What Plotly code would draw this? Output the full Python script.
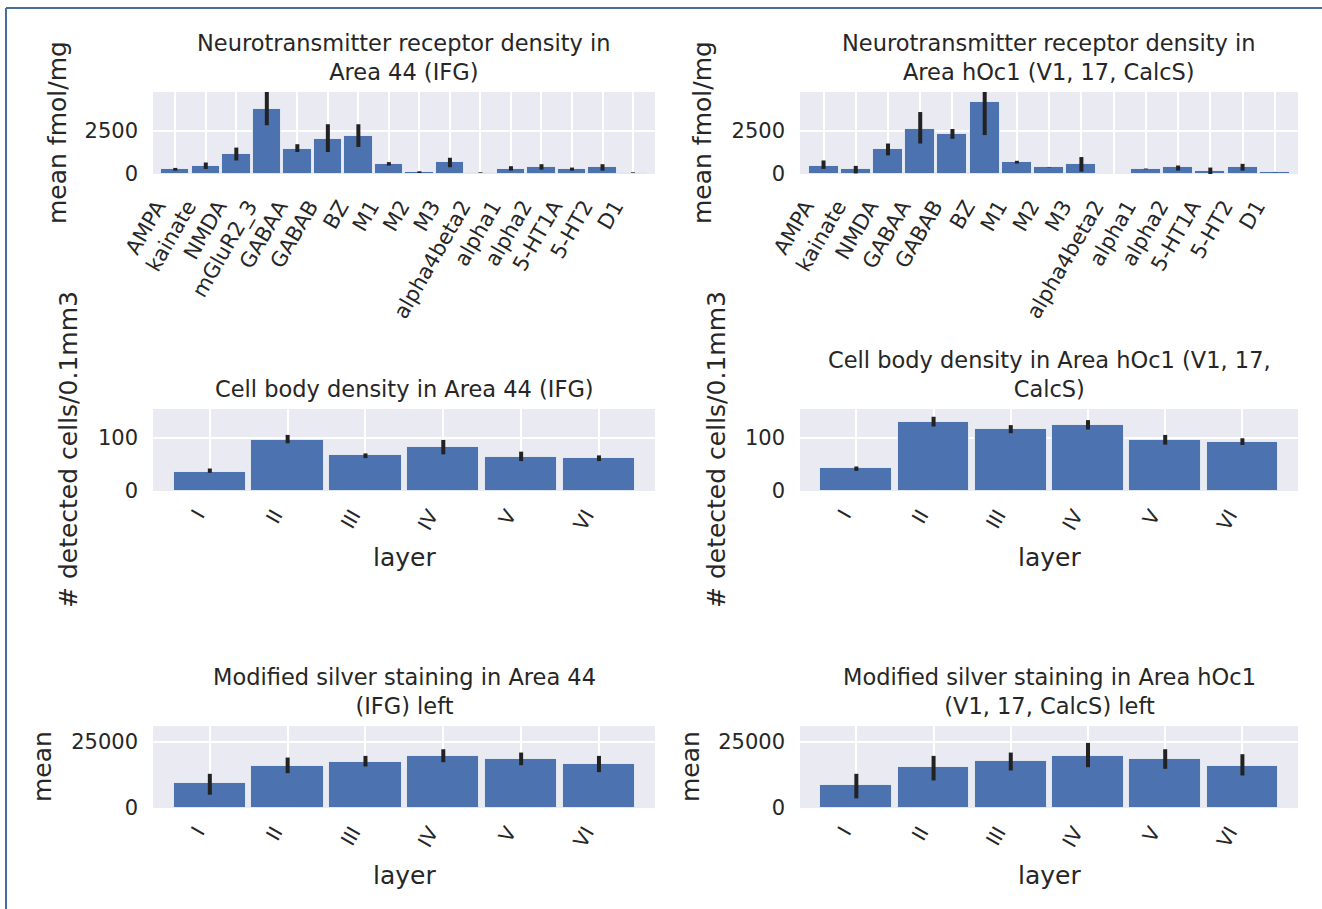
import plotly.graph_objects as go

W, H = 1322, 909

# ---------------- data ----------------
receptors_44 = ["AMPA", "kainate", "NMDA", "mGluR2_3", "GABAA", "GABAB", "BZ", "M1", "M2", "M3",
                "alpha4beta2", "alpha1", "alpha2", "5-HT1A", "5-HT2", "D1"]
receptor_mean_44 = [293, 469, 1172, 3750, 1445, 2011, 2207, 586, 98, 684, 78, 293, 390, 293, 390, 78]
receptor_hi_44 = [58, 195, 351, 1000, 274, 860, 664, 98, 58, 253, 20, 156, 176, 78, 176, 20]
receptor_lo_44 = [98, 176, 391, 938, 175, 741, 645, 98, 39, 293, 20, 98, 136, 98, 195, 20]

receptors_hoc1 = ["AMPA", "kainate", "NMDA", "GABAA", "GABAB", "BZ", "M1", "M2", "M3",
                  "alpha4beta2", "alpha1", "alpha2", "5-HT1A", "5-HT2", "D1"]
receptor_mean_hoc1 = [488, 293, 1465, 2597, 2304, 4160, 684, 390, 586, None, 293, 390, 195, 390, 98]
receptor_hi_hoc1 = [293, 176, 293, 977, 293, 1000, 78, 10, 391, 0, 20, 98, 176, 196, 5]
receptor_lo_hoc1 = [195, 260, 391, 839, 273, 1914, 79, 10, 449, 0, 20, 195, 195, 195, 5]

layers = ["I", "II", "III", "IV", "V", "VI"]
cells_mean_44 = [36.5, 95.6, 67.9, 83.0, 64.2, 61.0]
cells_hi_44 = [5.6, 9.4, 2.5, 12.6, 9.4, 5.7]
cells_lo_44 = [2.5, 6.3, 6.3, 14.4, 8.2, 5.0]

cells_mean_hoc1 = [42.8, 129.6, 117.0, 123.3, 95.6, 92.5]
cells_hi_hoc1 = [3.1, 9.4, 6.3, 9.4, 9.4, 6.2]
cells_lo_hoc1 = [5.1, 8.8, 8.8, 8.2, 8.8, 6.3]

silver_mean_44 = [9250, 16000, 17250, 19750, 18500, 16625]
silver_hi_44 = [3625, 3000, 2375, 2375, 2375, 3000]
silver_lo_44 = [4250, 2875, 1625, 2500, 2375, 3125]

silver_mean_hoc1 = [8625, 15375, 17875, 19750, 18500, 16000]
silver_hi_hoc1 = [4250, 4250, 3000, 4750, 3625, 4250]
silver_lo_hoc1 = [5000, 5000, 3750, 4375, 3750, 3750]

titles = [
    "Neurotransmitter receptor density in<br>Area 44 (IFG)",
    "Neurotransmitter receptor density in<br>Area hOc1 (V1, 17, CalcS)",
    "Cell body density in Area 44 (IFG)",
    "Cell body density in Area hOc1 (V1, 17,<br>CalcS)",
    "Modified silver staining in Area 44<br>(IFG) left",
    "Modified silver staining in Area hOc1<br>(V1, 17, CalcS) left",
]
ylabels = ["mean fmol/mg", "mean fmol/mg", "# detected cells/0.1mm3", "# detected cells/0.1mm3", "mean", "mean"]
ylabel_x = [58, 703, 68, 716, 42, 690]
yticks = [[0, 2500], [0, 2500], [0, 100], [0, 100], [0, 25000], [0, 25000]]
yranges = [[0, 4730], [0, 4730], [0, 153.5], [0, 153.5], [0, 30875], [0, 30875]]

series = [
    (receptors_44, receptor_mean_44, receptor_hi_44, receptor_lo_44),
    (receptors_hoc1, receptor_mean_hoc1, receptor_hi_hoc1, receptor_lo_hoc1),
    (layers, cells_mean_44, cells_hi_44, cells_lo_44),
    (layers, cells_mean_hoc1, cells_hi_hoc1, cells_lo_hoc1),
    (layers, silver_mean_44, silver_hi_44, silver_lo_44),
    (layers, silver_mean_hoc1, silver_hi_hoc1, silver_lo_hoc1),
]

# ---------------- layout geometry (pixels) ----------------
cols = [(153, 655), (800, 1298)]
rows = [(92, 174), (409, 491), (726, 808)]

FONT = "DejaVu Sans"
TXT = "#262626"
BAR = "#4C72B0"

fig = go.Figure()
annotations = []

for i, (cats, vals, hi, lo) in enumerate(series):
    r, c = divmod(i, 2)
    x0, x1 = cols[c]
    y0, y1 = rows[r]
    n = i + 1
    xa = "x" if n == 1 else f"x{n}"
    ya = "y" if n == 1 else f"y{n}"
    fig.add_trace(go.Bar(
        x=cats, y=vals, xaxis=xa, yaxis=ya, width=0.93,
        marker=dict(color=BAR, line=dict(color="rgba(255,255,255,0.7)", width=1)),
        error_y=dict(type="data", symmetric=False, array=hi, arrayminus=lo,
                     color="#222222", thickness=4, width=0),
        showlegend=False,
    ))
    ncat = len(cats)
    xaxis = dict(
        domain=[x0 / W, x1 / W], anchor=ya, type="category", automargin=False,
        range=[-0.73, ncat - 1 + 0.72], showgrid=True, gridcolor="white", gridwidth=1.6,
        tickangle=-60, tickfont=dict(family=FONT, size=21 if r == 0 else 20, color=TXT),
        showline=False, zeroline=False, ticks="",
        ticklabelstandoff=15 if r == 0 else 8,
        ticklabelshift=-18 if r == 0 else -13,
    )
    yaxis = dict(
        domain=[1 - y1 / H, 1 - y0 / H], anchor=xa, range=yranges[i], automargin=False,
        tickmode="array", tickvals=yticks[i], tickformat="d",
        showgrid=True, gridcolor="white", gridwidth=1.6, zeroline=False,
        tickfont=dict(family=FONT, size=21, color=TXT), ticks="",
        ticklabelstandoff=14, showline=False,
    )
    fig.layout[f"xaxis{'' if n == 1 else n}"] = xaxis
    fig.layout[f"yaxis{'' if n == 1 else n}"] = yaxis

    # title
    annotations.append(dict(
        text=titles[i], xref="paper", yref="paper",
        x=((x0 + x1) / 2) / W, y=1 - (y0 - 5) / H, xanchor="center", yanchor="bottom",
        showarrow=False, font=dict(family=FONT, size=22.5, color=TXT),
    ))
    # y label
    annotations.append(dict(
        text=ylabels[i], xref="paper", yref="paper", textangle=-90,
        x=ylabel_x[i] / W, y=1 - ((y0 + y1) / 2) / H, xanchor="center", yanchor="middle",
        showarrow=False, font=dict(family=FONT, size=25, color=TXT),
    ))
    if r > 0:
        ly = 557 if r == 1 else 875
        annotations.append(dict(
            text="layer", xref="paper", yref="paper",
            x=((x0 + x1) / 2) / W, y=1 - ly / H, xanchor="center", yanchor="middle",
            showarrow=False, font=dict(family=FONT, size=25, color=TXT),
        ))

shapes = [
    dict(type="line", xref="paper", yref="paper", x0=6 / W, x1=1.0, y0=1 - 8 / H, y1=1 - 8 / H,
         line=dict(color="#4a6c9e", width=2)),
    dict(type="line", xref="paper", yref="paper", x0=6 / W, x1=6 / W, y0=0, y1=1 - 8 / H,
         line=dict(color="#4a6c9e", width=2)),
]

fig.update_layout(
    width=W, height=H, margin=dict(l=0, r=0, t=0, b=0, autoexpand=False),
    paper_bgcolor="white", plot_bgcolor="#EAEAF2",
    annotations=annotations, shapes=shapes, bargap=0,
    font=dict(family=FONT, color=TXT),
)

fig.write_html("out.html", config={"displayModeBar": False},
               post_script="document.body.style.margin='0';document.body.style.overflow='hidden';")
